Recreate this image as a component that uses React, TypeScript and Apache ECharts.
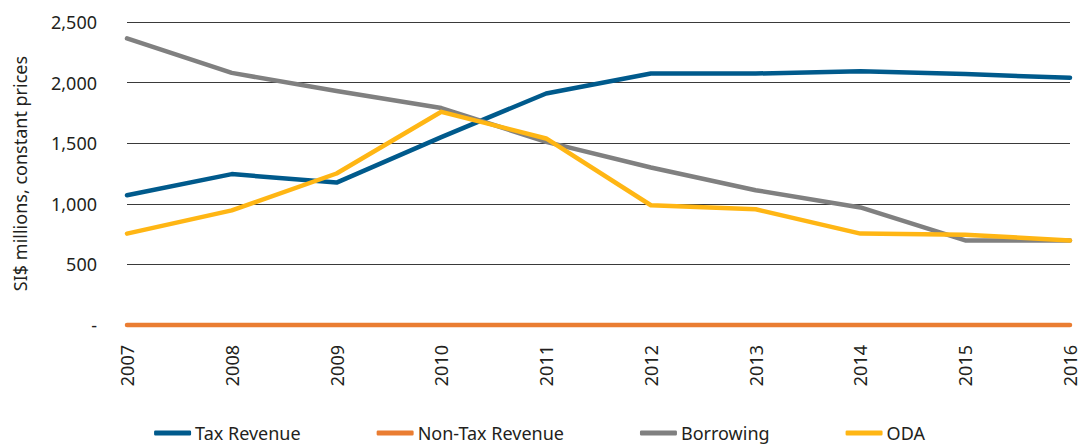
import React, { useEffect, useRef } from "react";
import * as echarts from "echarts";

const years = ["2007", "2008", "2009", "2010", "2011", "2012", "2013", "2014", "2015", "2016"];
const taxRevenue = [1070, 1245, 1175, 1550, 1910, 2075, 2075, 2093, 2070, 2040];
const nonTaxRevenue = [0, 0, 0, 0, 0, 0, 0, 0, 0, 0];
const borrowing = [2365, 2080, 1930, 1790, 1511, 1300, 1112, 970, 698, 698];
const oda = [754, 946, 1250, 1759, 1539, 988, 955, 754, 745, 698];
const yTicks = [0, 500, 1000, 1500, 2000, 2500];

const FONT = "Noto Sans";
const TEXT = "#231f20";

export default function App() {
  const ref = useRef<HTMLDivElement>(null);
  useEffect(() => {
    document.body.style.margin = "0";
    const chart = echarts.init(ref.current!, null, { renderer: "svg" });
    const mk = (name: string, data: number[], color: string) => ({
      name,
      type: "line",
      data,
      color,
      symbol: "none",
      clip: false,
      lineStyle: { width: 4.5, color, cap: "round", join: "round" },
    });
    chart.setOption({
      animation: false,
      textStyle: { fontFamily: FONT },
      grid: { left: 127, right: 0, top: 22, bottom: 120, containLabel: false },
      legend: {
        left: "center",
        bottom: -2,
        icon: "roundRect",
        itemWidth: 37,
        itemHeight: 5,
        itemGap: 76,
        textStyle: { fontSize: 18, color: TEXT, fontFamily: FONT, padding: [0, 0, 0, -1] },
        data: ["Tax Revenue", "Non-Tax Revenue", "Borrowing", "ODA"],
      },
      xAxis: {
        type: "category",
        data: years,
        boundaryGap: false,
        axisLine: { show: false },
        axisTick: { show: false },
        axisLabel: { rotate: 90, fontSize: 18, color: TEXT, margin: 20, fontFamily: FONT },
      },
      yAxis: {
        type: "value",
        min: yTicks[0],
        max: yTicks[yTicks.length - 1],
        interval: 500,
        name: "SI$ millions, constant prices",
        nameLocation: "middle",
        nameGap: 98,
        nameTextStyle: { fontSize: 18, color: TEXT, fontFamily: FONT },
        axisLine: { show: false },
        axisTick: { show: false },
        axisLabel: {
          fontSize: 18,
          color: TEXT,
          margin: 30,
          fontFamily: FONT,
          formatter: (v: number) => (v === 0 ? "-" : v.toLocaleString("en-US")),
        },
        splitLine: { show: true, lineStyle: { color: "#3a3a3a", width: 1.2 } },
      },
      series: [
        mk("Tax Revenue", taxRevenue, "#005a8c"),
        mk("Non-Tax Revenue", nonTaxRevenue, "#ea7d32"),
        mk("Borrowing", borrowing, "#808080"),
        mk("ODA", oda, "#ffb614"),
      ],
    });
    return () => chart.dispose();
  }, []);
  return (
    <div
      ref={ref}
      style={{ position: "fixed", left: 0, top: 0, width: 1079, height: 445, background: "#fff" }}
    />
  );
}
